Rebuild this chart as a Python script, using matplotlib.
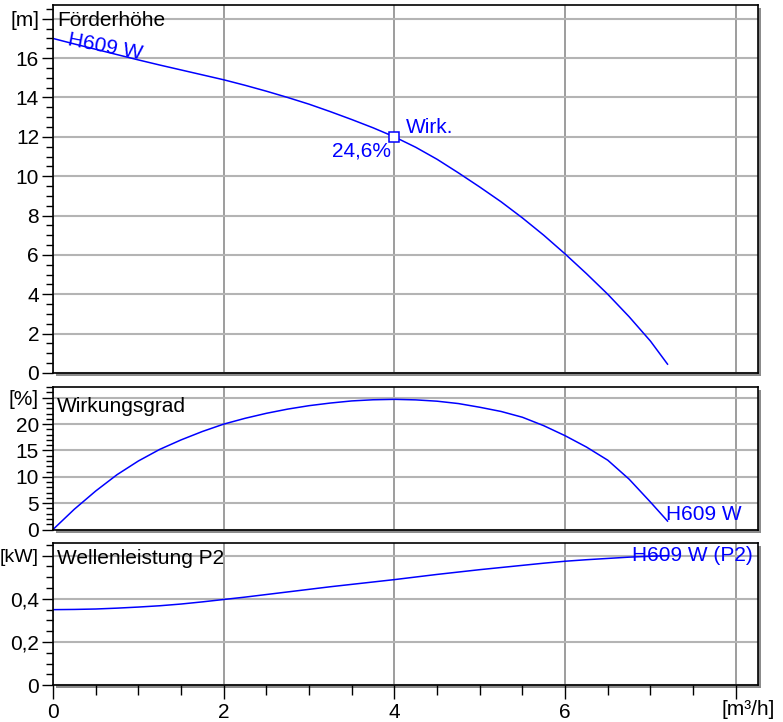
import matplotlib
matplotlib.use("Agg")
import matplotlib.pyplot as plt
import matplotlib.transforms as mtransforms
from matplotlib.patches import Rectangle
from matplotlib.ticker import MultipleLocator

plt.rcParams["font.family"] = ["Liberation Sans", "DejaVu Sans"]
plt.rcParams["font.size"] = 15

BLUE = "#0000ff"

q = [0, 0.25, 0.5, 0.75, 1, 1.25, 1.5, 1.75, 2, 2.25, 2.5, 2.75, 3, 3.25,
     3.5, 3.75, 4, 4.25, 4.5, 4.75, 5, 5.25, 5.5, 5.75, 6, 6.25, 6.5, 6.75,
     7, 7.2]

# Förderhöhe (head) [m]
head = [17.0, 16.72, 16.45, 16.18, 15.91, 15.65, 15.4, 15.15, 14.9, 14.62,
        14.32, 14.0, 13.66, 13.28, 12.88, 12.46, 12.0, 11.47, 10.86, 10.17,
        9.45, 8.7, 7.88, 7.0, 6.05, 5.05, 4.0, 2.86, 1.62, 0.45]

# Wirkungsgrad (efficiency) [%]
eff = [0, 3.85, 7.3, 10.4, 13.0, 15.2, 17.0, 18.6, 20.0, 21.1, 22.05, 22.85,
       23.5, 24.0, 24.4, 24.62, 24.7, 24.6, 24.35, 23.9, 23.2, 22.4, 21.3,
       19.7, 17.8, 15.65, 13.15, 9.55, 5.2, 1.6]

# Wellenleistung P2 (shaft power) [kW]
power = [0.350, 0.351, 0.353, 0.357, 0.362, 0.368, 0.376, 0.386, 0.397,
         0.408, 0.420, 0.432, 0.444, 0.456, 0.467, 0.478, 0.489, 0.501,
         0.513, 0.524, 0.535, 0.545, 0.555, 0.565, 0.574, 0.581, 0.587,
         0.593, 0.597, 0.600]

# duty point
q_duty = 4.0
h_duty = 12.0
eff_duty_label = "24,6%"

x_ticks = [0, 2, 4, 6, 8]
x_ticklabels = ["0", "2", "4", "6", ""]

fig = plt.figure(figsize=(7.83, 7.22), dpi=100)

W, H = 783, 722
left, right = 53 / W, 758 / W


def make_axes(top_px, bottom_px):
    ax = fig.add_axes([left, 1 - bottom_px / H, right - left, (bottom_px - top_px) / H])
    # grey drop shadow on the right and bottom
    shadow = Rectangle((0, 0), 1, 1,
                       transform=mtransforms.offset_copy(ax.transAxes, fig, x=3, y=-3, units="dots"),
                       facecolor="#8c8c8c", edgecolor="none", zorder=-5)
    fig.add_artist(shadow)
    ax.set_xlim(0, 8.26)
    ax.set_xticks(x_ticks)
    ax.grid(axis="y", color="#b4b4b4", lw=1.5)
    ax.grid(axis="x", color="#8c8c8c", lw=1.2)
    ax.set_axisbelow(True)
    for s in ax.spines.values():
        s.set_color("black")
        s.set_linewidth(1.2)
    ax.tick_params(axis="y", which="major", length=8, width=1.0, pad=2, labelsize=15)
    ax.tick_params(axis="y", which="minor", length=5, width=1.0)
    return ax


ax1 = make_axes(5, 373)
ax2 = make_axes(386.7, 529.5)
ax3 = make_axes(543.3, 685.3)

for ax in (ax1, ax2):
    ax.tick_params(axis="x", which="both", length=0, labelbottom=False)

# top panel: head
ax1.plot(q, head, color=BLUE, lw=1.1)
ax1.set_ylim(0, 18.7)
ax1.set_yticks(range(0, 19, 2))
ax1.set_yticklabels([str(v) for v in range(0, 17, 2)] + ["[m]"])
ax1.yaxis.set_minor_locator(MultipleLocator(0.5))
ax1.text(0.006, 0.985, "Förderhöhe", transform=ax1.transAxes, ha="left", va="top")
ax1.text(0.18, 16.95, "H609 W", color=BLUE, rotation=-11, ha="left", va="center",
         rotation_mode="anchor")
ax1.plot([q_duty], [h_duty], marker="s", ms=7, mfc="white", mec=BLUE, mew=1.1)
ax1.text(q_duty + 0.13, h_duty + 0.2, "Wirk.", color=BLUE, ha="left", va="baseline")
ax1.text(q_duty - 0.04, h_duty - 1.0, eff_duty_label, color=BLUE, ha="right", va="baseline")

# middle panel: efficiency
ax2.plot(q, eff, color=BLUE, lw=1.1)
ax2.set_ylim(0, 27.1)
ax2.set_yticks(range(0, 26, 5))
ax2.set_yticklabels([str(v) for v in range(0, 21, 5)] + ["[%]"])
ax2.yaxis.set_minor_locator(MultipleLocator(1))
ax2.text(0.006, 0.93, "Wirkungsgrad", transform=ax2.transAxes, ha="left", va="top")
ax2.text(q[-1] - 0.02, 1.8, "H609 W", color=BLUE, ha="left", va="baseline")

# bottom panel: shaft power
ax3.plot(q, power, color=BLUE, lw=1.1)
ax3.set_ylim(0, 0.657)
ax3.set_yticks([0, 0.2, 0.4, 0.6])
ax3.set_yticklabels(["0", "0,2", "0,4", "[kW]"])
ax3.get_yticklabels()[-1].set_fontsize(14)
ax3.yaxis.set_minor_locator(MultipleLocator(0.05))
ax3.set_xticklabels(x_ticklabels)
ax3.xaxis.set_minor_locator(MultipleLocator(0.5))
ax3.tick_params(axis="x", which="major", length=10, width=1.0, pad=3, labelsize=15)
ax3.tick_params(axis="x", which="minor", length=7, width=1.0)
ax3.text(0.006, 0.96, "Wellenleistung P2", transform=ax3.transAxes, ha="left", va="top")
ax3.text(6.78, 0.575, "H609 W (P2)", color=BLUE, ha="left", va="baseline")

fig.text(748 / W, 1 - 700 / H, "[m³/h]", ha="center", va="top", fontsize=15)

fig.savefig("out.png", dpi=100)
